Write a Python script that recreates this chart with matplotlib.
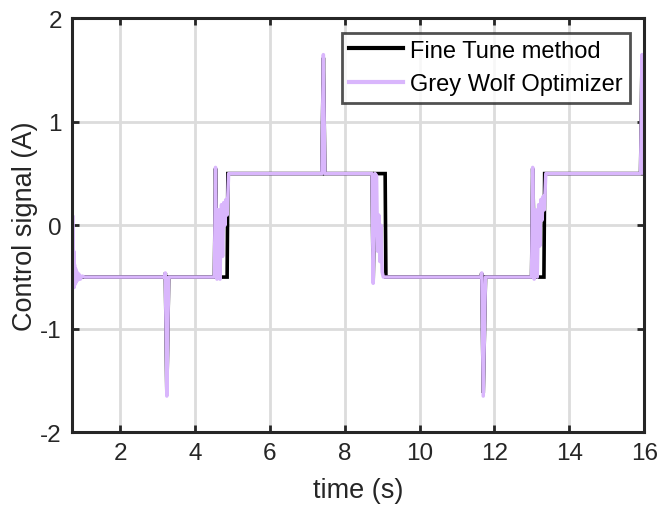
import numpy as np
import matplotlib
matplotlib.use("Agg")
import matplotlib.pyplot as plt

plt.rcParams["font.family"] = ["Liberation Sans", "DejaVu Sans"]

# Fine Tune method (black)
ft_t = [0.71, 3.19, 3.21, 3.25, 3.30, 4.52, 4.55, 4.60, 4.86, 4.88,
        7.39, 7.43, 7.47, 8.73, 8.76, 8.81, 9.08, 9.10, 11.64, 11.66,
        11.70, 11.76, 12.99, 13.02, 13.07, 13.32, 13.34, 15.90, 15.94, 15.98, 16.0]
ft_y = [-0.50, -0.50, -0.46, -1.62, -0.50, -0.50, 0.55, -0.50, -0.50, 0.50,
        0.50, 1.62, 0.50, 0.50, -0.55, 0.50, 0.50, -0.50, -0.50, -0.46,
        -1.62, -0.50, -0.50, 0.55, -0.50, -0.50, 0.50, 0.50, 1.62, 0.50, 0.50]

# Grey Wolf Optimizer (light purple)
gwo_t = [0.745, 0.755, 0.765, 0.775, 0.785, 0.80, 0.815, 0.83, 0.85, 0.87,
         0.90, 0.94, 0.99, 1.05, 3.19, 3.21, 3.25, 3.30, 4.52, 4.55,
         4.59, 4.63, 4.67, 4.71, 4.74, 4.77, 4.80, 4.83, 4.86, 4.90,
         7.39, 7.43, 7.47, 8.73, 8.76, 8.81, 8.85, 8.88, 8.91, 8.94,
         8.97, 9.00, 9.03, 11.64, 11.66, 11.70, 11.76, 12.99, 13.02, 13.06,
         13.10, 13.14, 13.18, 13.21, 13.24, 13.27, 13.30, 13.33, 13.37, 15.90,
         15.94, 15.98, 16.0]
gwo_y = [0.08, -0.60, -0.25, -0.60, -0.38, -0.57, -0.42, -0.55, -0.45, -0.53,
         -0.47, -0.52, -0.49, -0.50, -0.50, -0.46, -1.65, -0.50, -0.50, 0.56,
         -0.52, 0.15, -0.52, 0.20, -0.30, 0.22, 0.00, 0.25, 0.10, 0.50,
         0.50, 1.65, 0.50, 0.50, -0.56, 0.50, 0.48, -0.25, 0.10, -0.35,
         0.00, -0.45, -0.50, -0.50, -0.46, -1.65, -0.50, -0.50, 0.56, -0.52,
         0.15, -0.50, 0.20, -0.20, 0.25, 0.05, 0.28, 0.15, 0.50, 0.50,
         1.65, 0.50, 0.50]

x_ticks = [2, 4, 6, 8, 10, 12, 14, 16]
y_ticks = [-2, -1, 0, 1, 2]

fig = plt.figure(figsize=(6.61, 5.10), dpi=100)
ax = fig.add_axes([0.1085, 0.1504, 0.8662, 0.8116])

ax.plot(ft_t, ft_y, color="black", linewidth=2.6, label="Fine Tune method",
        solid_joinstyle="miter")
ax.plot(gwo_t, gwo_y, color="#d9b6fc", linewidth=2.5, label="Grey Wolf Optimizer")

ax.set_xlim(0.71, 16)
ax.set_ylim(-2, 2)
ax.set_xticks(x_ticks)
ax.set_yticks(y_ticks)
ax.set_yticklabels(["-2", "-1", "0", "1", "2"])
ax.grid(True, color="#dcdcdc", linewidth=2.0)
ax.set_axisbelow(True)
ax.tick_params(direction="in", length=5, width=2, top=True, right=True,
               labelsize=17.5, colors="#262626", pad=7)
for sp in ax.spines.values():
    sp.set_linewidth(2.2)
    sp.set_color("#262626")

ax.set_xlabel("time (s)", fontsize=19.5, color="#262626", labelpad=9)
ax.set_ylabel("Control signal (A)", fontsize=19.5, color="#262626", labelpad=2)

leg = ax.legend(loc="upper right", fontsize=17, frameon=True, fancybox=False,
                edgecolor="#262626", borderpad=0.3, labelspacing=0.5,
                handlelength=2.3, handletextpad=0.3, borderaxespad=0.6)
leg.get_frame().set_linewidth(2.0)
for line in leg.get_lines():
    line.set_linewidth(3.0)

fig.savefig("out.png", dpi=100)
